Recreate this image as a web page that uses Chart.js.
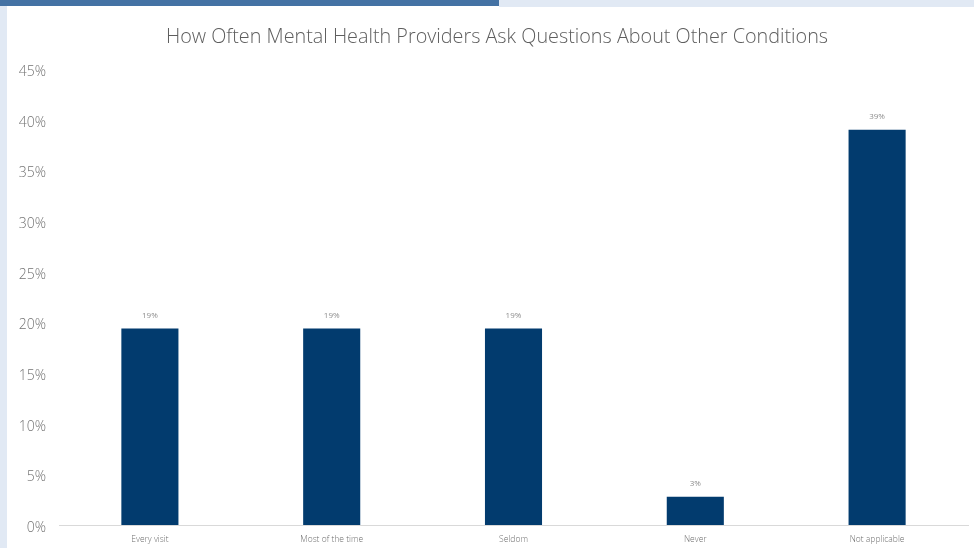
<!DOCTYPE html>
<html>
<head>
<meta charset="utf-8">
<script src="https://cdn.jsdelivr.net/npm/chart.js@4/dist/chart.umd.min.js"></script>
<style>
  html, body { margin: 0; padding: 0; background: #ffffff; }
  #wrap { position: relative; width: 974px; height: 548px; overflow: hidden; background: #ffffff; }
  .strip { position: absolute; }
  #c { position: absolute; left: 0; top: 0; }
</style>
</head>
<body>
<div id="wrap">
  <div class="strip" style="left:0;top:0;width:499px;height:6px;background:#4472a4;"></div>
  <div class="strip" style="left:499px;top:0;width:475px;height:7px;background:#e1e9f4;"></div>
  <div class="strip" style="left:0;top:6px;width:7px;height:542px;background:#e1e9f4;"></div>
  <canvas id="c" width="974" height="548"></canvas>
</div>
<script>
const categories = ["Every visit", "Most of the time", "Seldom", "Never", "Not applicable"];
const values = [19.4, 19.4, 19.4, 2.8, 39.0];
const yTicks = [0, 5, 10, 15, 20, 25, 30, 35, 40, 45];
const chartTitle = "How Often Mental Health Providers Ask Questions About Other Conditions";

const FONT = '"Open Sans", Lato, sans-serif';

const barLabels = {
  id: 'barLabels',
  afterDatasetsDraw(chart) {
    const ctx = chart.ctx;
    const meta = chart.getDatasetMeta(0);
    ctx.save();
    ctx.font = '8px ' + FONT;
    ctx.fillStyle = '#8c8c8c';
    ctx.textAlign = 'center';
    ctx.textBaseline = 'middle';
    meta.data.forEach((bar, i) => {
      ctx.fillText(Math.round(values[i]) + '%', bar.x, bar.y - 13);
    });
    ctx.restore();
  }
};

const titlePlugin = {
  id: 'centeredTitle',
  afterDraw(chart) {
    const ctx = chart.ctx;
    ctx.save();
    ctx.font = '300 19.8px ' + FONT;
    ctx.fillStyle = '#5e5e5e';
    ctx.textAlign = 'center';
    ctx.textBaseline = 'middle';
    ctx.fillText(chartTitle, 497, 37);
    ctx.restore();
  }
};

new Chart(document.getElementById('c'), {
  type: 'bar',
  data: {
    labels: categories,
    datasets: [{
      data: values,
      backgroundColor: '#023b6e',
      borderWidth: 0,
      categoryPercentage: 1.0,
      barPercentage: 0.314
    }]
  },
  options: {
    responsive: false,
    animation: false,
    devicePixelRatio: 1,
    layout: { padding: { left: 0, right: 6, top: 69, bottom: 0 } },
    plugins: {
      legend: { display: false },
      tooltip: { enabled: false },
      title: { display: false }
    },
    scales: {
      x: {
        grid: { display: false, drawTicks: false },
        border: { display: true, color: '#d9d9d9', width: 1 },
        ticks: {
          color: '#6e6e6e',
          font: { family: FONT, size: 8.5, weight: '300' },
          padding: 9,
          maxRotation: 0
        },
        afterFit(scale) { scale.height = 23; }
      },
      y: {
        min: 0,
        max: 45,
        grid: { display: false, drawTicks: false },
        border: { display: false },
        afterBuildTicks(scale) { scale.ticks = yTicks.map(v => ({ value: v })); },
        ticks: {
          color: '#737373',
          font: { family: FONT, size: 14, weight: '300' },
          padding: 13,
          labelOffset: 3,
          callback: v => v + '%'
        },
        afterFit(scale) { scale.width = 59; }
      }
    }
  },
  plugins: [barLabels, titlePlugin]
});
</script>
</body>
</html>
